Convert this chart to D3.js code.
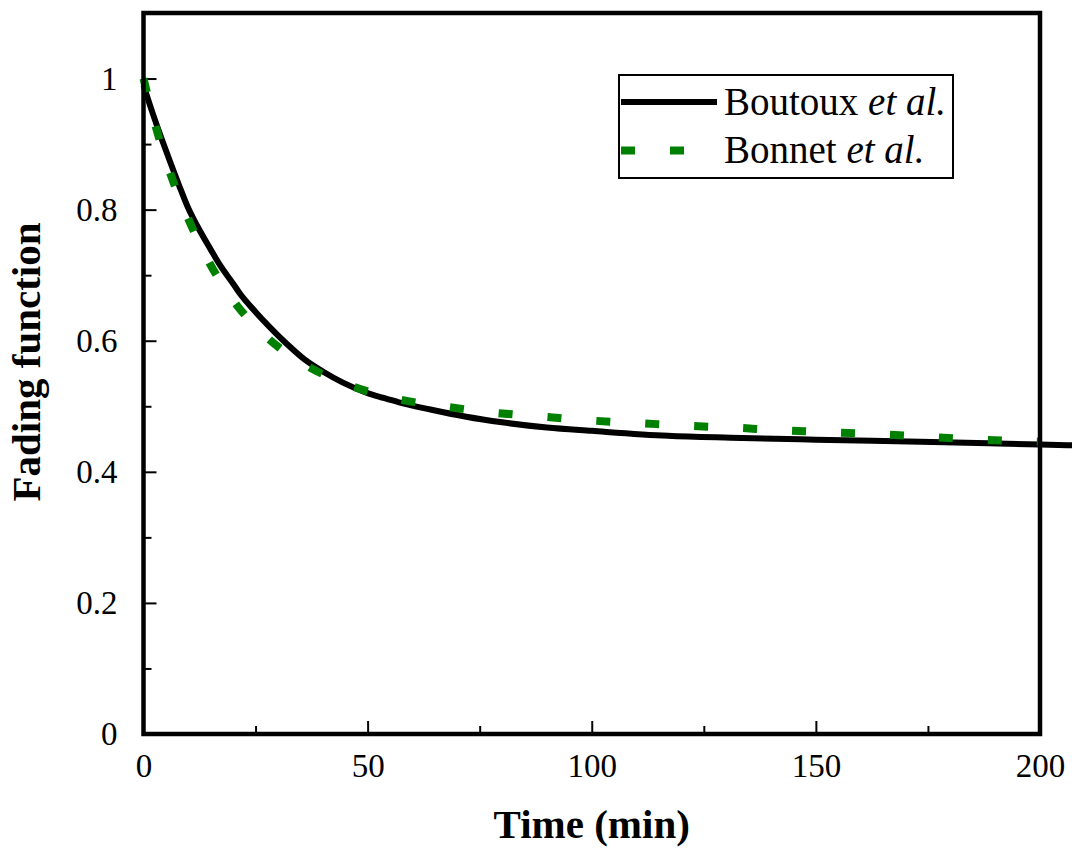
<!DOCTYPE html>
<html lang="en">
<head>
    <meta charset="UTF-8"/>
    <title>Fading function</title>
    <script src="https://d3js.org/d3.v7.min.js" charset="utf-8"></script>
    <style type="text/css">
        body { margin: 0; background: #fff; }
        text { font-family: "Times New Roman", "Liberation Serif", serif; fill: #000; }
        .axis path { display: none; }
        .axis line { stroke: #000; stroke-width: 2px; }
        .axis text { font-size: 33px; }
    </style>
</head>
<body>
<div id="chart"></div>
<script type="text/javascript">
    // Boutoux et al. (solid black)
    var boutouxTime  = [0, 2, 4, 6, 8, 10, 12, 15, 17, 20, 21.5, 25, 28, 32, 36, 40, 44.5, 50, 53.4, 57, 64, 72, 80, 90, 100, 117, 131, 150, 176, 200, 210];
    var boutouxValue = [0.99, 0.948, 0.909, 0.872, 0.836, 0.802, 0.775, 0.739, 0.716, 0.687, 0.672, 0.644, 0.622, 0.595, 0.571, 0.553, 0.536, 0.52, 0.513, 0.506, 0.495, 0.484, 0.4755, 0.4675, 0.4625, 0.455, 0.452, 0.449, 0.4455, 0.4415, 0.44];

    // Bonnet et al. (green dashes)
    var bonnetTime  = [0, 2.8, 6.1, 10, 14.7, 20.4, 27.4, 36.4, 46, 56.8, 67.8, 78.5, 89.5, 100.4, 111.2, 122.2, 132.9, 140.3, 151, 162, 173, 183.8, 194.6, 200];
    var bonnetValue = [1.0, 0.925, 0.853, 0.786, 0.719, 0.658, 0.606, 0.562, 0.532, 0.511, 0.499, 0.49, 0.484, 0.478, 0.474, 0.47, 0.467, 0.464, 0.461, 0.458, 0.454, 0.45, 0.447, 0.446];

    var xMajorTicks = [0, 50, 100, 150, 200];
    var xMinorTicks = [25, 75, 125, 175];
    var yMajorTicks = [0, 0.2, 0.4, 0.6, 0.8, 1];
    var yMinorTicks = [0.1, 0.3, 0.5, 0.7, 0.9];

    var legendLabels = ["Boutoux", "Bonnet"];

    var W = 1072, H = 850;
    var plotLeft = 143.5, plotRight = 1040, plotTop = 13, plotBottom = 734;

    var svg = d3.select("#chart")
        .append("svg")
        .attr("width", W)
        .attr("height", H);

    var x = d3.scaleLinear().domain([0, 200]).range([plotLeft, plotRight]);
    var y = d3.scaleLinear().domain([0, 1.1]).range([plotBottom, plotTop]);

    // minor ticks
    svg.append("g")
        .attr("class", "axis")
        .attr("transform", "translate(0," + plotBottom + ")")
        .call(d3.axisBottom(x).tickValues(xMinorTicks).tickSize(-8).tickFormat(""));
    svg.append("g")
        .attr("class", "axis")
        .attr("transform", "translate(" + plotLeft + ",0)")
        .call(d3.axisLeft(y).tickValues(yMinorTicks).tickSize(-8).tickFormat(""));

    // major ticks + labels
    svg.append("g")
        .attr("class", "axis")
        .attr("transform", "translate(0," + plotBottom + ")")
        .call(d3.axisBottom(x).tickValues(xMajorTicks).tickSize(-13).tickPadding(20).tickFormat(d3.format("d")));
    svg.append("g")
        .attr("class", "axis")
        .attr("transform", "translate(" + plotLeft + ",0)")
        .call(d3.axisLeft(y).tickValues(yMajorTicks).tickSize(-13).tickPadding(26).tickFormat(function (d) { return String(d); }));

    // curves (not clipped, as in the original)
    var line = d3.line()
        .x(function (d) { return x(d[0]); })
        .y(function (d) { return y(d[1]); })
        .curve(d3.curveMonotoneX);

    var boutoux = boutouxTime.map(function (t, i) { return [t, boutouxValue[i]]; });
    var bonnet = bonnetTime.map(function (t, i) { return [t, bonnetValue[i]]; });

    svg.append("path")
        .attr("d", line(boutoux))
        .attr("fill", "none")
        .attr("stroke", "#000")
        .attr("stroke-width", 6);

    svg.append("path")
        .attr("d", line(bonnet))
        .attr("fill", "none")
        .attr("stroke", "#008000")
        .attr("stroke-width", 8)
        .attr("stroke-dasharray", "14,35");

    // frame
    svg.append("rect")
        .attr("x", plotLeft)
        .attr("y", plotTop)
        .attr("width", plotRight - plotLeft)
        .attr("height", plotBottom - plotTop)
        .attr("fill", "none")
        .attr("stroke", "#000")
        .attr("stroke-width", 4.5);

    // axis titles
    svg.append("text")
        .attr("x", (plotLeft + plotRight) / 2)
        .attr("y", 838)
        .attr("text-anchor", "middle")
        .style("font-size", "41px")
        .style("font-weight", "bold")
        .text("Time (min)");

    svg.append("text")
        .attr("transform", "translate(40,362) rotate(-90)")
        .attr("text-anchor", "middle")
        .style("font-size", "41px")
        .style("font-weight", "bold")
        .text("Fading function");

    // legend
    var lg = svg.append("g");
    lg.append("rect")
        .attr("x", 619)
        .attr("y", 75)
        .attr("width", 334)
        .attr("height", 103)
        .attr("fill", "#fff")
        .attr("stroke", "#000")
        .attr("stroke-width", 2);

    lg.append("line")
        .attr("x1", 621).attr("x2", 717)
        .attr("y1", 102).attr("y2", 102)
        .attr("stroke", "#000")
        .attr("stroke-width", 6);
    lg.append("line")
        .attr("x1", 621).attr("x2", 717)
        .attr("y1", 150.5).attr("y2", 150.5)
        .attr("stroke", "#008000")
        .attr("stroke-width", 8)
        .attr("stroke-dasharray", "14,35");

    legendLabels.forEach(function (name, i) {
        var t = lg.append("text")
            .attr("x", 724)
            .attr("y", 115 + i * 48)
            .style("font-size", "39px");
        t.append("tspan").text(name + " ");
        t.append("tspan").style("font-style", "italic").text("et al.");
    });
</script>
</body>
</html>
